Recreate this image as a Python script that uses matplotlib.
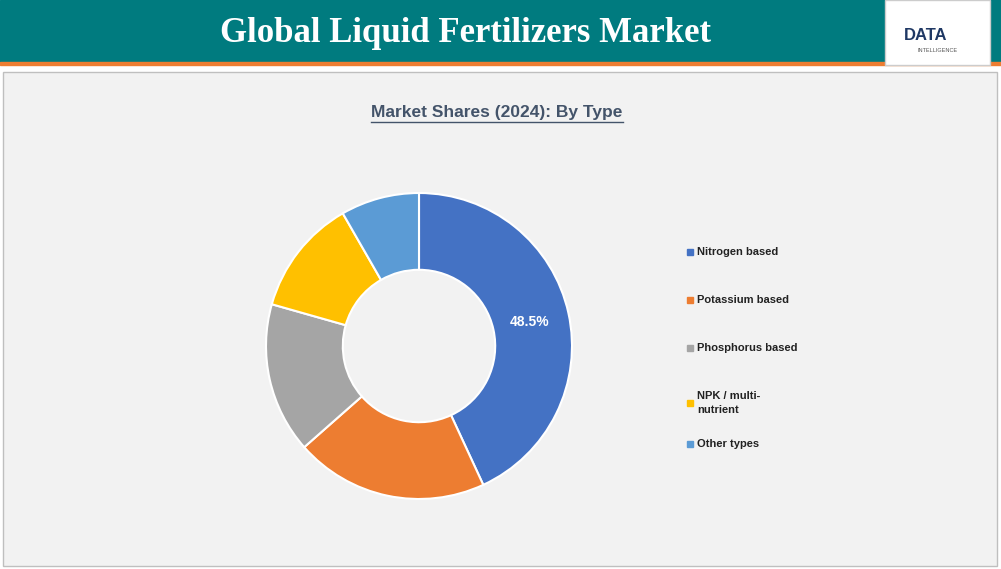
import matplotlib.pyplot as plt
from matplotlib.patches import Rectangle

plt.rcParams['font.family'] = ['Liberation Sans', 'DejaVu Sans']

categories = ["Nitrogen based", "Potassium based", "Phosphorus based", "NPK / multi-\nnutrient", "Other types"]
shares = [43.1, 20.4, 15.9, 12.3, 8.3]
slice_labels = ["48.5%", "", "", "", ""]
colors = ["#4472c4", "#ed7d31", "#a5a5a5", "#ffc000", "#5b9bd5"]

fig = plt.figure(figsize=(10.01, 5.69), dpi=100)
fig.patch.set_facecolor("white")

# header
fig.patches.append(Rectangle((0, 1 - 62/569), 1, 62/569, transform=fig.transFigure, color="#007b7f", zorder=0))
fig.patches.append(Rectangle((0, 1 - 65/569), 1, 3/569, transform=fig.transFigure, color="#ed7d31", zorder=0))
fig.patches.append(Rectangle((885/1001, 1 - 65/569), 105/1001, 65/569, transform=fig.transFigure,
                             facecolor="white", edgecolor="#cccccc", zorder=1))
fig.text(0.465, 1 - 34/569, "Global Liquid Fertilizers Market", ha="center", va="center",
         fontsize=25, fontweight="bold", color="white", family="Liberation Serif")
fig.text(0.925, 1 - 36/569, "DATA", ha="center", va="center", fontsize=12, fontweight="bold", color="#1f3864")
fig.text(0.937, 1 - 50/569, "INTELLIGENCE", ha="center", va="center", fontsize=4, color="#555555")

# body panel
fig.patches.append(Rectangle((3/1001, 3/569), 994/1001, 494/569, transform=fig.transFigure,
                             facecolor="#f2f2f2", edgecolor="#bfbfbf", zorder=0))
t = fig.text(497/1001, 1 - 113/569, "Market Shares (2024): By Type", ha="center", va="center",
             fontsize=12.5, fontweight="bold", color="#44546a")

ax = fig.add_axes([(419 - 160)/1001, (569 - 346 - 160)/569, 320/1001, 320/569])
ax.set_zorder(3)
ax.patch.set_visible(False)
wedges, _ = ax.pie(shares, colors=colors, startangle=90, counterclock=False,
                   wedgeprops=dict(width=0.48, edgecolor="white", linewidth=1.5), radius=153/160)
ax.set_xlim(-1, 1)
ax.set_ylim(-1, 1)
ax.text(0.69, 0.15, slice_labels[0], ha="center", va="center", color="white", fontsize=10, fontweight="bold")
ax.set_aspect("equal")

ys = [252, 300, 348, 403, 444]
for cat, col, y in zip(categories, colors, ys):
    fig.patches.append(Rectangle((687/1001, 1 - (y + 3)/569), 6/1001, 6/569, transform=fig.transFigure, color=col, zorder=2))
    fig.text(697/1001, 1 - y/569, cat, ha="left", va="center", fontsize=8, fontweight="bold",
             color="#222222", linespacing=1.6)

fig.savefig("out.png", dpi=100)
# underline title
r = fig.canvas.get_renderer()
bb = t.get_window_extent(r)
fig.add_artist(plt.Line2D([bb.x0/1001, bb.x1/1001], [(bb.y0 - 1)/569]*2, transform=fig.transFigure,
                          color="#44546a", linewidth=1))
fig.savefig("out.png", dpi=100)
